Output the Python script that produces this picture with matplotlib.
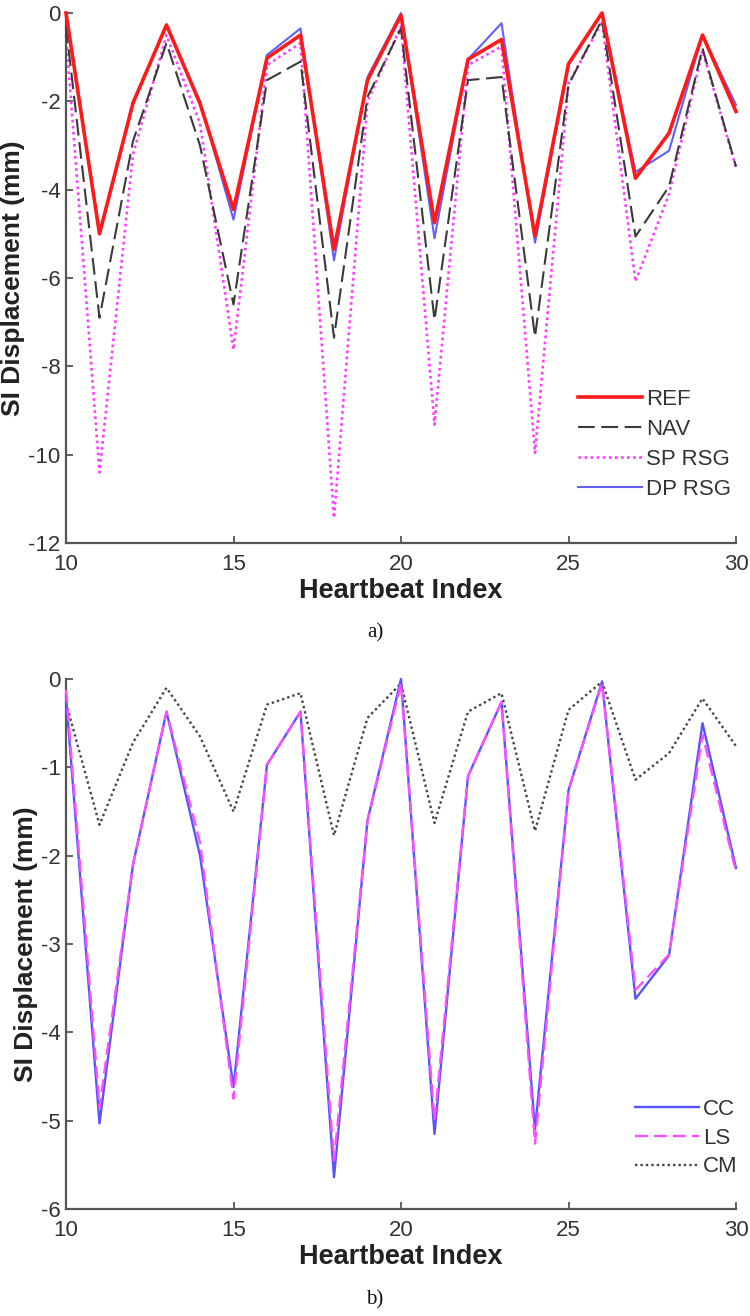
import matplotlib
matplotlib.use("Agg")
import matplotlib.pyplot as plt
import numpy as np

# ---------------- data ----------------
beats = list(range(10, 31))

# panel a
ref = [0.0, -5.0, -2.04, -0.27, -2.05, -4.45, -1.02, -0.50, -5.35, -1.52,
       -0.05, -4.75, -1.05, -0.60, -5.05, -1.15, 0.0, -3.74, -2.72, -0.50, -2.23]
nav = [-0.3, -6.9, -2.9, -0.68, -3.0, -6.6, -1.52, -1.10, -7.35, -1.90,
       -0.35, -6.95, -1.52, -1.45, -7.33, -1.63, -0.15, -5.06, -3.93, -0.80, -3.48]
sp_rsg = [-0.5, -10.4, -3.2, -0.5, -2.5, -7.62, -1.18, -0.68, -11.43, -2.0,
          -0.3, -9.32, -1.18, -0.76, -9.96, -1.6, -0.2, -6.08, -4.1, -0.85, -3.5]
dp_rsg = [0.0, -5.0, -2.0, -0.3, -2.0, -4.68, -0.95, -0.35, -5.6, -1.45,
          0.0, -5.1, -1.05, -0.23, -5.2, -1.18, 0.0, -3.6, -3.12, -0.5, -2.08]

# panel b
cc = [-0.2, -5.03, -2.1, -0.37, -2.0, -4.62, -0.97, -0.37, -5.64, -1.6,
      0.0, -5.15, -1.1, -0.26, -5.1, -1.26, -0.03, -3.62, -3.13, -0.5, -2.14]
ls = [-0.12, -4.85, -2.1, -0.37, -1.85, -4.75, -0.97, -0.37, -5.45, -1.6,
      -0.05, -5.0, -1.1, -0.26, -5.26, -1.26, -0.05, -3.52, -3.12, -0.63, -2.18]
cm = [-0.27, -1.65, -0.72, -0.1, -0.65, -1.5, -0.29, -0.16, -1.77, -0.44,
      -0.05, -1.63, -0.37, -0.16, -1.72, -0.35, -0.03, -1.14, -0.84, -0.22, -0.76]

xticks = [10, 15, 20, 25, 30]
yticks_a = [0, -2, -4, -6, -8, -10, -12]
yticks_b = [0, -1, -2, -3, -4, -5, -6]

# ---------------- figure ----------------
plt.rcParams['font.family'] = ['Liberation Sans', 'DejaVu Sans']
W, H = 750, 1316
fig = plt.figure(figsize=(W / 100, H / 100), dpi=100)

def px_axes(left, top, right, bottom):
    return fig.add_axes([left / W, 1 - bottom / H, (right - left) / W, (bottom - top) / H])

axis_col = '#555555'
text_col = '#333333'

def style(ax, yticks, ylim):
    ax.set_xlim(10, 30)
    ax.set_ylim(*ylim)
    ax.set_xticks(xticks)
    ax.set_yticks(yticks)
    ax.set_yticklabels([str(v) for v in yticks])
    for s in ['top', 'right']:
        ax.spines[s].set_visible(False)
    for s in ['left', 'bottom']:
        ax.spines[s].set_color(axis_col)
        ax.spines[s].set_linewidth(1.6)
    ax.tick_params(direction='in', length=5, width=1.3, color=axis_col,
                   labelsize=16, labelcolor=text_col)
    ax.tick_params(axis='x', pad=8)
    ax.tick_params(axis='y', pad=4)
    ax.set_xlabel('Heartbeat Index', fontsize=19.5, fontweight='bold', color='#222222', labelpad=2)
    ax.set_ylabel('SI Displacement (mm)', fontsize=19, fontweight='bold', color='#222222', labelpad=2)

# panel a
ax1 = px_axes(66, 13, 736, 543)
l_ref, = ax1.plot(beats, ref, color='#ff1a1a', lw=2.6, label='REF', zorder=5, clip_on=False)
l_nav, = ax1.plot(beats, nav, color='#3a3a3a', lw=1.5, dashes=(8, 3.2), label='NAV', zorder=3, clip_on=False)
l_sp, = ax1.plot(beats, sp_rsg, color='#ff3cff', lw=1.9, dashes=(1.0, 1.3), label='SP RSG', zorder=2, clip_on=False)
l_dp, = ax1.plot(beats, dp_rsg, color='#6060ff', lw=1.5, label='DP RSG', zorder=4, clip_on=False)
style(ax1, yticks_a, (-12, 0))
leg1 = ax1.legend(handles=[l_ref, l_nav, l_sp, l_dp], loc='upper left',
                  bbox_to_anchor=((569 - 66) / 670, 1 - (380 - 13) / 530),
                  frameon=False, fontsize=16, handlelength=2.9, handletextpad=0.15,
                  labelspacing=0.4, borderaxespad=0)
for t in leg1.get_texts():
    t.set_color(text_col)

fig.text(375 / W, 1 - 633 / H, 'a)', fontsize=15, family='Liberation Serif',
         ha='center', va='center', color='#111111')

# panel b
ax2 = px_axes(66, 679, 736, 1209)
l_cc, = ax2.plot(beats, cc, color='#5555ff', lw=1.7, label='CC', zorder=3, clip_on=False)
l_ls, = ax2.plot(beats, ls, color='#ff4dff', lw=1.7, dashes=(5.5, 2.5), label='LS', zorder=4, clip_on=False)
l_cm, = ax2.plot(beats, cm, color='#444444', lw=1.7, dashes=(1.0, 1.3), label='CM', zorder=2, clip_on=False)
style(ax2, yticks_b, (-6, 0))
leg2 = ax2.legend(handles=[l_cc, l_ls, l_cm], loc='upper left',
                  bbox_to_anchor=((626 - 66) / 670, 1 - (1090 - 679) / 530),
                  frameon=False, fontsize=16, handlelength=2.9, handletextpad=0.15,
                  labelspacing=0.35, borderaxespad=0)
for t in leg2.get_texts():
    t.set_color(text_col)

fig.text(375 / W, 1 - 1300 / H, 'b)', fontsize=15, family='Liberation Serif',
         ha='center', va='center', color='#111111')

fig.savefig('out.png', dpi=100, facecolor='white')
